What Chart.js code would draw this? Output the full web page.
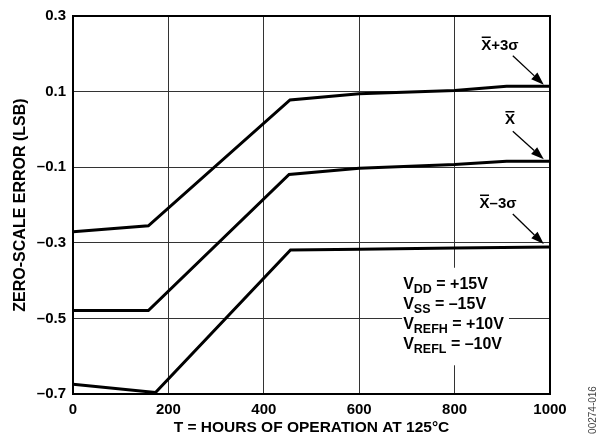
<!DOCTYPE html>
<html>
<head>
<meta charset="utf-8">
<script src="https://cdn.jsdelivr.net/npm/chart.js@4.4.1/dist/chart.umd.min.js"></script>
<style>
  body { margin: 0; background: #fff; }
  canvas { display: block; }
</style>
</head>
<body>
<canvas id="myChart" width="603" height="440"></canvas>
<script>
const FONT = "'Liberation Sans', Arial, sans-serif";

// podaci ocitani sa grafika
const hoursPlus = [0, 158, 455, 600, 800, 909, 1000];
const errPlus = [-0.271, -0.255, 0.078, 0.094, 0.103, 0.114, 0.114];
const hoursMean = [0, 158, 453, 600, 800, 909, 1000];
const errMean = [-0.479, -0.479, -0.119, -0.103, -0.093, -0.084, -0.084];
const hoursMinus = [0, 173, 456, 600, 800, 1000];
const errMinus = [-0.674, -0.696, -0.319, -0.317, -0.314, -0.311];

const xTicks = [0, 200, 400, 600, 800, 1000];
const yTicks = [-0.7, -0.5, -0.3, -0.1, 0.1, 0.3];

const xTitle = 'T = HOURS OF OPERATION AT 125°C';
const yTitle = 'ZERO-SCALE ERROR (LSB)';

// oznake krivih: tekst, polozaj i strelica (u jedinicama osa)
const callouts = [
    { rest: '+3σ', x: 895, y: 0.21, from: [922, 0.195], to: [987, 0.118] },
    { rest: '', x: 916, y: 0.013, from: [922, -0.005], to: [987, -0.079] },
    { rest: '\u20133σ', x: 891, y: -0.208, from: [922, -0.224], to: [987, -0.303] }
];

const specLines = [
    ['V', 'DD', ' = +15V'],
    ['V', 'SS', ' = \u201315V'],
    ['V', 'REFH', ' = +10V'],
    ['V', 'REFL', ' = \u201310V']
];
const specBox = { x0: 690, x1: 914, y0: -0.366, y1: -0.624 };

function toPoints(xs, ys) {
    return xs.map((x, i) => ({ x: x, y: ys[i] }));
}

function drawArrow(ctx, x1, y1, x2, y2) {
    const ang = Math.atan2(y2 - y1, x2 - x1);
    const len = 13, half = 4.5;
    const bx = x2 - len * Math.cos(ang), by = y2 - len * Math.sin(ang);
    ctx.beginPath();
    ctx.lineWidth = 1.3;
    ctx.moveTo(x1, y1);
    ctx.lineTo(bx, by);
    ctx.stroke();
    ctx.beginPath();
    ctx.moveTo(x2, y2);
    ctx.lineTo(bx + half * Math.sin(ang), by - half * Math.cos(ang));
    ctx.lineTo(bx - half * Math.sin(ang), by + half * Math.cos(ang));
    ctx.closePath();
    ctx.fill();
}

const extras = {
    id: 'extras',
    beforeDatasetsDraw(chart) {
        const ctx = chart.ctx;
        const sx = chart.scales.x, sy = chart.scales.y;
        // bela pozadina za napomenu o naponima
        const left = sx.getPixelForValue(specBox.x0);
        const right = sx.getPixelForValue(specBox.x1);
        const top = sy.getPixelForValue(specBox.y0);
        const bottom = sy.getPixelForValue(specBox.y1);
        ctx.save();
        ctx.fillStyle = '#fff';
        ctx.fillRect(left, top, right - left, bottom - top);
        ctx.fillStyle = '#000';
        ctx.textBaseline = 'alphabetic';
        ctx.textAlign = 'left';
        specLines.forEach((parts, i) => {
            let x = left + 1;
            const y = top + 21 + i * 20;
            ctx.font = 'bold 16px ' + FONT;
            ctx.fillText(parts[0], x, y);
            x += ctx.measureText(parts[0]).width;
            ctx.font = 'bold 12.5px ' + FONT;
            ctx.fillText(parts[1], x, y + 4);
            x += ctx.measureText(parts[1]).width;
            ctx.font = 'bold 16px ' + FONT;
            ctx.fillText(parts[2], x, y);
        });
        ctx.restore();
    },
    afterDatasetsDraw(chart) {
        const ctx = chart.ctx;
        const a = chart.chartArea;
        const sx = chart.scales.x, sy = chart.scales.y;
        ctx.save();
        ctx.strokeStyle = '#000';
        ctx.lineWidth = 2;
        ctx.strokeRect(a.left, a.top, a.right - a.left, a.bottom - a.top);

        ctx.fillStyle = '#000';
        ctx.font = 'bold 15px ' + FONT;
        ctx.textBaseline = 'alphabetic';
        ctx.textAlign = 'left';
        callouts.forEach(c => {
            const wX = ctx.measureText('X').width;
            const total = ctx.measureText('X' + c.rest).width;
            const cx = sx.getPixelForValue(c.x);
            const by = sy.getPixelForValue(c.y);
            const x0 = cx - total / 2;
            ctx.fillText('X' + c.rest, x0, by);
            ctx.fillRect(x0 + 0.5, by - 13.5, wX - 1, 1.5);
            drawArrow(ctx, sx.getPixelForValue(c.from[0]), sy.getPixelForValue(c.from[1]),
                sx.getPixelForValue(c.to[0]), sy.getPixelForValue(c.to[1]));
        });

        // oznaka slike
        ctx.translate(593, 410);
        ctx.rotate(-Math.PI / 2);
        ctx.font = '10px ' + FONT;
        ctx.fillStyle = '#444';
        ctx.textAlign = 'center';
        ctx.textBaseline = 'middle';
        ctx.fillText('00274-016', 0, 0);
        ctx.restore();
    }
};

function fmtY(v) {
    return v < 0 ? '\u2013' + Math.abs(v).toFixed(1) : v.toFixed(1);
}

const canvas = document.getElementById('myChart');
const myChart = new Chart(canvas, {
    type: 'line',
    data: {
        datasets: [
            { data: toPoints(hoursPlus, errPlus) },
            { data: toPoints(hoursMean, errMean) },
            { data: toPoints(hoursMinus, errMinus) }
        ]
    },
    options: {
        responsive: false,
        devicePixelRatio: 1,
        animation: false,
        layout: { padding: { left: 0, right: 53, top: 14, bottom: 0 } },
        elements: {
            line: { borderColor: '#000', borderWidth: 3, tension: 0, fill: false, borderJoinStyle: 'miter' },
            point: { radius: 0 }
        },
        plugins: { legend: { display: false }, tooltip: { enabled: false } },
        scales: {
            x: {
                type: 'linear',
                min: 0,
                max: 1000,
                afterBuildTicks: axis => { axis.ticks = xTicks.map(v => ({ value: v })); },
                afterFit: axis => { axis.height = 46; },
                grid: { color: '#333', lineWidth: 1, drawTicks: false },
                border: { display: false },
                ticks: {
                    color: '#000',
                    font: { family: FONT, size: 15, weight: 'bold' },
                    padding: 7,
                    maxRotation: 0,
                    callback: v => String(v)
                },
                title: {
                    display: true,
                    text: xTitle,
                    color: '#000',
                    font: { family: FONT, size: 15.5, weight: 'bold' },
                    padding: { top: 0, bottom: 3 }
                }
            },
            y: {
                type: 'linear',
                min: -0.7,
                max: 0.3,
                afterBuildTicks: axis => { axis.ticks = yTicks.map(v => ({ value: v })); },
                afterFit: axis => { axis.width = 73; },
                grid: { color: '#333', lineWidth: 1, drawTicks: false },
                border: { display: false },
                ticks: {
                    color: '#000',
                    font: { family: FONT, size: 15, weight: 'bold' },
                    padding: 7,
                    callback: v => fmtY(v)
                },
                title: {
                    display: true,
                    text: yTitle,
                    color: '#000',
                    font: { family: FONT, size: 16, weight: 'bold' },
                    padding: { top: 11, bottom: 0 }
                }
            }
        }
    },
    plugins: [extras]
});
</script>
</body>
</html>
